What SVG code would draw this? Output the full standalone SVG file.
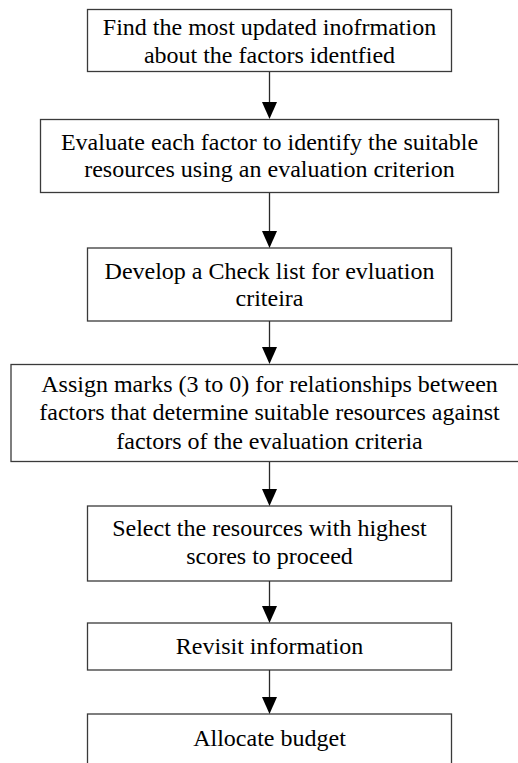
<svg xmlns="http://www.w3.org/2000/svg" width="518" height="763" viewBox="0 0 518 763">
  <style>
    .box { fill: #ffffff; stroke: #3a3a3a; stroke-width: 1.3; }
    .label { font-family: "Liberation Serif", "Times New Roman", serif; font-size: 24px; fill: #000000; text-anchor: middle; }
    .link { stroke: #2a2a2a; stroke-width: 1.3; fill: none; }
    .head { fill: #000000; }
  </style>
  <rect width="518" height="763" fill="#ffffff"/>

  <g id="find-info">
    <rect class="box" x="87.5" y="9.5" width="364" height="62"/>
    <text class="label" x="269.5" y="34.5">Find the most updated inofrmation</text>
    <text class="label" x="269.5" y="62.5">about the factors identfied</text>
  </g>

  <g id="evaluate-factors">
    <rect class="box" x="40.5" y="119.5" width="458" height="73"/>
    <text class="label" x="269.5" y="149.5">Evaluate each factor to identify the suitable</text>
    <text class="label" x="269.5" y="177">resources using an evaluation criterion</text>
  </g>

  <g id="checklist">
    <rect class="box" x="87.5" y="248" width="364" height="73"/>
    <text class="label" x="269.5" y="278.5">Develop a Check list for evluation</text>
    <text class="label" x="269.5" y="305.5">criteira</text>
  </g>

  <g id="assign-marks">
    <rect class="box" x="11" y="364.5" width="520" height="97"/>
    <text class="label" x="269.5" y="392">Assign marks (3 to 0) for relationships between</text>
    <text class="label" x="269.5" y="420">factors that determine suitable resources against</text>
    <text class="label" x="269.5" y="448.5">factors of the evaluation criteria</text>
  </g>

  <g id="select-resources">
    <rect class="box" x="87.5" y="506" width="364" height="75"/>
    <text class="label" x="269.5" y="536">Select the resources with highest</text>
    <text class="label" x="269.5" y="564">scores to proceed</text>
  </g>

  <g id="revisit">
    <rect class="box" x="87.5" y="623" width="364" height="47"/>
    <text class="label" x="269.5" y="653.5">Revisit information</text>
  </g>

  <g id="allocate">
    <rect class="box" x="87.5" y="714" width="364" height="60"/>
    <text class="label" x="269.5" y="746">Allocate budget</text>
  </g>

  <g id="connectors">
    <line class="link" x1="269.5" y1="72" x2="269.5" y2="103"/>
    <polygon class="head" points="262,102 277,102 269.5,119"/>

    <line class="link" x1="269.5" y1="193" x2="269.5" y2="232"/>
    <polygon class="head" points="262,231 277,231 269.5,248"/>

    <line class="link" x1="269.5" y1="321" x2="269.5" y2="348"/>
    <polygon class="head" points="262,347 277,347 269.5,364"/>

    <line class="link" x1="269.5" y1="462" x2="269.5" y2="490"/>
    <polygon class="head" points="262,489 277,489 269.5,506"/>

    <line class="link" x1="269.5" y1="581" x2="269.5" y2="607"/>
    <polygon class="head" points="262,606 277,606 269.5,623"/>

    <line class="link" x1="269.5" y1="670" x2="269.5" y2="698"/>
    <polygon class="head" points="262,697 277,697 269.5,714"/>
  </g>
</svg>
